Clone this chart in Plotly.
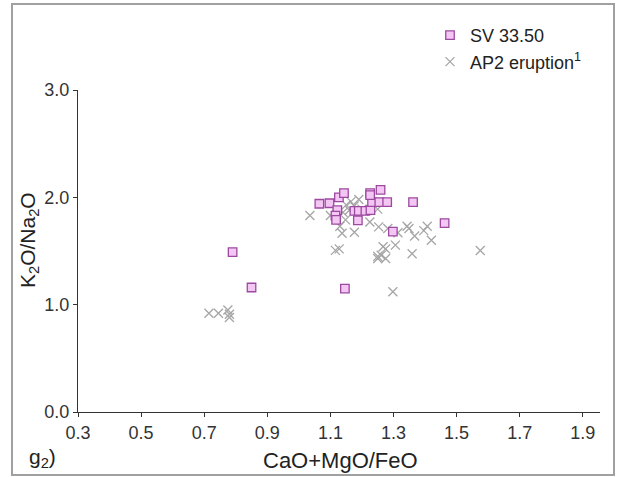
import plotly.graph_objects as go

# SV 33.50 samples (squares)
sv_x = [0.79, 0.85, 1.065, 1.097, 1.127, 1.143, 1.122, 1.116, 1.118, 1.146, 1.176, 1.19,
        1.187, 1.211, 1.227, 1.226, 1.232, 1.226, 1.255, 1.259, 1.28, 1.362, 1.298, 1.462]
sv_y = [1.49, 1.16, 1.94, 1.945, 2.0, 2.04, 1.88, 1.83, 1.79, 1.15, 1.873, 1.873,
        1.786, 1.873, 1.88, 2.04, 1.955, 2.02, 1.955, 2.07, 1.955, 1.955, 1.68, 1.76]

# AP2 eruption (crosses)
ap_x = [0.715, 0.745, 0.775, 0.78, 0.78, 1.035, 1.10, 1.13, 1.137, 1.176, 1.148, 1.225,
        1.253, 1.282, 1.314, 1.343, 1.349, 1.367, 1.396, 1.407, 1.42, 1.267, 1.275, 1.306,
        1.25, 1.261, 1.275, 1.25, 1.359, 1.116, 1.128, 1.298, 1.575,
        1.15, 1.165, 1.175, 1.16, 1.2, 1.14, 1.12, 1.19, 1.205, 1.25]
ap_y = [0.92, 0.92, 0.95, 0.91, 0.88, 1.83, 1.83, 1.73, 1.665, 1.675, 1.79, 1.77,
        1.725, 1.71, 1.67, 1.73, 1.71, 1.64, 1.69, 1.73, 1.6, 1.54, 1.52, 1.555,
        1.45, 1.46, 1.43, 1.43, 1.475, 1.506, 1.52, 1.12, 1.505,
        1.93, 1.96, 1.92, 1.88, 1.89, 1.86, 1.84, 1.98, 1.87, 1.89]

x_ticks = [0.3, 0.5, 0.7, 0.9, 1.1, 1.3, 1.5, 1.7, 1.9]
y_ticks = [0.0, 1.0, 2.0, 3.0]

FONT = "Liberation Sans, Arial, sans-serif"

fig = go.Figure()
fig.add_trace(go.Scatter(
    x=ap_x, y=ap_y, mode="markers", name="AP2 eruption<sup>1</sup>", legendrank=2,
    marker=dict(symbol="x-thin", size=9, line=dict(color="#a6a6a6", width=1.3)),
))
fig.add_trace(go.Scatter(
    x=sv_x, y=sv_y, mode="markers", name="SV 33.50", legendrank=1,
    marker=dict(symbol="square", size=8.5, color="#f4c6f4",
                line=dict(color="#9c4aa0", width=1.3)),
))

W, H = 618, 477
L, R, T, B = 78, 18, 90, 65
pw, ph = W - L - R, H - T - B


def px(xp):
    return (xp - L) / pw


def py(yp):
    return (H - B - yp) / ph


fig.update_layout(
    width=W, height=H,
    margin=dict(l=L, r=R, t=T, b=B),
    paper_bgcolor="white", plot_bgcolor="white",
    font=dict(family=FONT, size=18, color="#333333"),
    showlegend=True,
    legend=dict(x=px(430), y=py(17), xanchor="left", yanchor="top",
                bgcolor="rgba(0,0,0,0)", font=dict(size=18, color="#222222"),
                tracegroupgap=12),
    xaxis=dict(range=[0.3, 0.3 + pw / 315.5], tickvals=x_ticks,
               ticktext=[f"{v:.1f}" for v in x_ticks],
               showgrid=False, zeroline=False, showline=True, linecolor="#333333",
               linewidth=1, ticks="outside", ticklen=4, tickcolor="#333333",
               tickfont=dict(size=18, color="#333333")),
    yaxis=dict(range=[0, 3], tickvals=y_ticks,
               ticktext=[f"{v:.1f}" for v in y_ticks],
               showgrid=False, zeroline=False, showline=True, linecolor="#333333",
               linewidth=1, ticks="outside", ticklen=4, tickcolor="#333333",
               tickfont=dict(size=18, color="#333333")),
    shapes=[dict(type="rect", xref="paper", yref="paper",
                 x0=px(12), x1=px(614), y0=py(475), y1=py(4),
                 line=dict(color="#a0a0a0", width=2))],
    annotations=[
        dict(text="CaO+MgO/FeO", xref="paper", yref="paper", x=px(340), y=py(460),
             xanchor="center", yanchor="middle", showarrow=False,
             font=dict(size=22, color="#222222")),
        dict(text="K<sub>2</sub>O/Na<sub>2</sub>O", xref="paper", yref="paper",
             x=px(29), y=py(240), xanchor="center", yanchor="middle", textangle=-90,
             showarrow=False, font=dict(size=21, color="#222222")),
        dict(text="g<sub>2</sub>)", xref="paper", yref="paper", x=px(27), y=py(458),
             xanchor="left", yanchor="middle", showarrow=False,
             font=dict(size=21, color="#222222")),
    ],
)

fig.write_html("out.html", config={"displayModeBar": False},
               post_script="document.body.style.margin='0';document.body.style.overflow='hidden';")
